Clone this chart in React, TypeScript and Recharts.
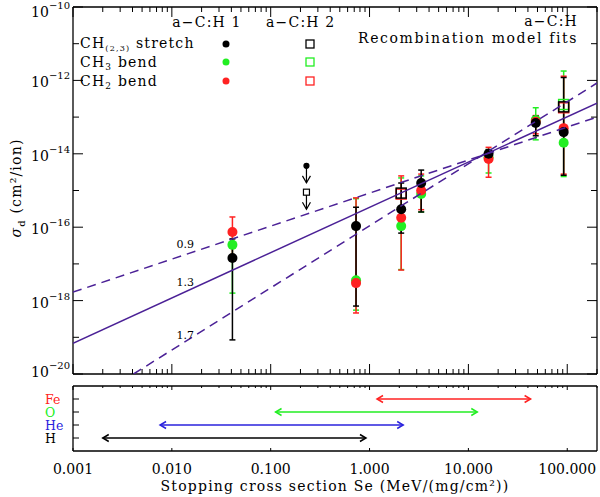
import React from 'react';
import { ScatterChart, Scatter, XAxis, YAxis, ErrorBar, ReferenceDot } from 'recharts';

const FONT = '"DejaVu Serif", serif';
const PURPLE = '#4b2196';
const RED = '#ff2222';
const GREEN = '#22ee22';
const BLUE = '#2a22dd';

// stopping cross section of each measured ion beam, MeV/(mg/cm2)
const SE = [0.041, 0.73, 2.09, 3.33, 16, 48, 92];

// a-C:H 1, CH(2,3) stretch
const STRETCH = [1.45e-17, 1.07e-16, 3.1e-16, 1.6e-15, 1.0e-14, 6.9e-14, 3.9e-14];
const STRETCH_LO = [8.5e-20, 7.1e-19, 6.9e-17, 2.6e-16, 7e-15, 3.1e-14, 2.6e-15];
const STRETCH_HI = [4.8e-17, 3.5e-16, 1.6e-15, 3.6e-15, 1.3e-14, 1.07e-13, 1.2e-12];

// a-C:H 1, CH3 bend
const CH3 = [3.3e-17, 3.6e-18, 1.07e-16, 8e-16, 8e-15, 8.3e-14, 2e-14];
const CH3_LO = [1.6e-18, 5.5e-19, 7e-18, 2.6e-16, 3e-15, 2.4e-14, 2.4e-15];
const CH3_HI = [7e-17, 6e-16, 2.2e-15, 2.5e-15, 1.3e-14, 1.8e-13, 1.8e-12];

// a-C:H 1, CH2 bend
const CH2 = [7.4e-17, 3.0e-18, 1.8e-16, 1.0e-15, 7.2e-15, 7.5e-14, 5e-14];
const CH2_LO = [1.5e-17, 4.6e-19, 6.8e-18, 3e-16, 2.3e-15, 3.5e-14, 2.8e-15];
const CH2_HI = [1.9e-16, 6.3e-16, 2.5e-15, 2.8e-15, 1.5e-14, 1.1e-13, 1.3e-12];

// a-C:H 2 (open squares)
const SE2 = [2.09, 92];
const STRETCH2 = [8.5e-16, 1.9e-13];
const CH2_2 = [8e-16, 1.8e-13];
const SE2_CH3 = [92];
const CH3_2 = [2.2e-13];

// upper limits
const LIMIT_SE = [0.23];
const LIMIT_STRETCH = [4.7e-15];
const LIMIT_SQUARE = [9e-16];

// recombination model fits, read where they meet the frame
const FIT_SE = [0.001, 200];
const FIT_13 = [6.9e-20, 2.4e-13];
const FIT_09 = [1.7e-18, 1.0e-13];
const FIT_17_SE = [0.0041, 200];
const FIT_17 = [1e-20, 8.5e-13];

const FIT_LABELS = ['0.9', '1.3', '1.7'];
const FIT_LABEL_SE = 0.0137;
const FIT_LABEL_Y = [3.5e-17, 3.2e-18, 1.15e-19];

// ion energy ranges (bottom panel)
const IONS = ['H', 'He', 'O', 'Fe'];
const ION_COLORS = ['#000', BLUE, GREEN, RED];
const ION_LO = [0.002, 0.0076, 0.112, 1.19];
const ION_HI = [0.92, 2.19, 12.3, 42.6];

const DECADES = [0.001, 0.01, 0.1, 1, 10, 100];
const X_LABELS = ['0.001', '0.010', '0.100', '1.000', '10.000', '100.000'];
const Y_EXP = [-20, -19, -18, -17, -16, -15, -14, -13, -12, -11, -10];

const X_TICKS = DECADES.flatMap((d) => [1, 2, 3, 4, 5, 6, 7, 8, 9].map((m) => m * d)).filter((v) => v <= 200);
const Y_TICKS = Y_EXP.map((e) => Math.pow(10, e));

const rows = (ys: number[], lo: number[], hi: number[]) =>
  SE.map((x, i) => ({ x, y: ys[i], err: [ys[i] - lo[i], hi[i] - ys[i]] }));
const pts = (xs: number[], ys: number[]) => xs.map((x, i) => ({ x, y: ys[i] }));

const decadeIndex = (v: number) => DECADES.findIndex((d) => Math.abs(v / d - 1) < 1e-6);

const XTick = ({ x, y, payload, side, labels, big = 10, small = 5 }: any) => {
  const i = decadeIndex(payload.value);
  const len = i >= 0 ? big : small;
  const dir = side === 'top' ? 1 : -1;
  return (
    <g>
      {len > 0 && <line x1={x} y1={y} x2={x} y2={y + dir * len} stroke="#000" strokeWidth={1} />}
      {labels && i >= 0 && (
        <text x={x} y={y + 23} textAnchor="middle" fontFamily={FONT} fontSize={14} fill="#000">
          {X_LABELS[i]}
        </text>
      )}
    </g>
  );
};

const YTick = ({ x, y, payload, side, labels }: any) => {
  const e = Math.round(Math.log10(payload.value));
  const major = e % 2 === 0;
  const len = major ? 10 : 6;
  const dir = side === 'left' ? 1 : -1;
  const base = e === -10 ? 10 : e === -20 ? 3 : 7;
  return (
    <g>
      <line x1={x} y1={y} x2={x + dir * len} y2={y} stroke="#000" strokeWidth={1} />
      {labels && major && (
        <text x={x - 3} y={y + base} textAnchor="end" fontFamily={FONT} fontSize={14} fill="#000">
          10
          <tspan fontSize={10} dy={-8}>{'\u2212' + Math.abs(e)}</tspan>
        </text>
      )}
    </g>
  );
};

const Dot = (color: string, r = 5) => (p: any) => <circle cx={p.cx} cy={p.cy} r={r} fill={color} />;
const Square = (color: string) => (p: any) => (
  <rect x={p.cx - 5} y={p.cy - 5} width={10} height={10} fill="none" stroke={color} strokeWidth={1.5} />
);
const NoShape = () => <g />;

const LimitDot = (p: any) => (
  <g stroke="#000" strokeWidth={1.2} fill="none">
    <circle cx={p.cx} cy={p.cy} r={2.5} fill="#000" />
    <line x1={p.cx} y1={p.cy} x2={p.cx} y2={p.cy + 17} />
    <polyline points={`${p.cx - 4},${p.cy + 10} ${p.cx},${p.cy + 17} ${p.cx + 4},${p.cy + 10}`} />
  </g>
);
const LimitSquare = (p: any) => (
  <g stroke="#000" strokeWidth={1.2} fill="none">
    <rect x={p.cx - 3} y={p.cy - 3} width={6} height={6} fill="#fff" />
    <line x1={p.cx} y1={p.cy + 3} x2={p.cx} y2={p.cy + 17} />
    <polyline points={`${p.cx - 4},${p.cy + 10} ${p.cx},${p.cy + 17} ${p.cx + 4},${p.cy + 10}`} />
  </g>
);

const Arrowhead = (color: string, lo: number) => (p: any) => {
  const d = p.payload.x === lo ? 1 : -1;
  return (
    <polyline
      points={`${p.cx + d * 6},${p.cy - 3.5} ${p.cx},${p.cy} ${p.cx + d * 6},${p.cy + 3.5}`}
      fill="none"
      stroke={color}
      strokeWidth={1.5}
    />
  );
};

const BAND = [
  { name: 'CH3', data: rows(CH3, CH3_LO, CH3_HI), color: GREEN },
  { name: 'CH2', data: rows(CH2, CH2_LO, CH2_HI), color: RED },
  { name: 'stretch', data: rows(STRETCH, STRETCH_LO, STRETCH_HI), color: '#000' },
];

const AXIS_LINE = { stroke: '#000', strokeWidth: 1.3 };
const LOG_X = {
  type: 'number' as const,
  dataKey: 'x',
  scale: 'log' as const,
  domain: [0.001, 200],
  allowDataOverflow: true,
  interval: 0 as const,
  height: 1,
  tickSize: 0,
  tickMargin: 0,
  axisLine: AXIS_LINE,
};

function MainPanel() {
  const logY = {
    type: 'number' as const,
    dataKey: 'y',
    scale: 'log' as const,
    domain: [1e-20, 1e-10],
    allowDataOverflow: true,
    ticks: Y_TICKS,
    interval: 0 as const,
    width: 1,
    tickSize: 0,
    tickMargin: 0,
    axisLine: AXIS_LINE,
  };
  return (
    <ScatterChart width={600} height={380} margin={{ top: 6, right: 2, bottom: 5, left: 72 }}>
      <XAxis xAxisId="b" {...LOG_X} ticks={X_TICKS} tick={(p: any) => <XTick {...p} side="bottom" />} />
      <XAxis xAxisId="t" orientation="top" {...LOG_X} ticks={X_TICKS} tick={(p: any) => <XTick {...p} side="top" />} />
      <YAxis yAxisId="l" {...logY} tick={(p: any) => <YTick {...p} side="left" labels />} />
      <YAxis yAxisId="r" orientation="right" {...logY} tick={(p: any) => <YTick {...p} side="right" />} />

      {BAND.map((s) => (
        <Scatter key={s.name} xAxisId="b" yAxisId="l" data={s.data} isAnimationActive={false} shape={Dot(s.color)}>
          <ErrorBar dataKey="err" direction="y" width={3} stroke={s.color} strokeWidth={1.5} isAnimationActive={false} />
        </Scatter>
      ))}

      <Scatter xAxisId="b" yAxisId="l" data={pts(SE2_CH3, CH3_2)} isAnimationActive={false} shape={Square(GREEN)} />
      <Scatter xAxisId="b" yAxisId="l" data={pts(SE2, CH2_2)} isAnimationActive={false} shape={Square(RED)} />
      <Scatter xAxisId="b" yAxisId="l" data={pts(SE2, STRETCH2)} isAnimationActive={false} shape={Square('#000')} />

      <Scatter xAxisId="b" yAxisId="l" data={pts(LIMIT_SE, LIMIT_STRETCH)} isAnimationActive={false} shape={LimitDot} />
      <Scatter xAxisId="b" yAxisId="l" data={pts(LIMIT_SE, LIMIT_SQUARE)} isAnimationActive={false} shape={LimitSquare} />

      <Scatter
        xAxisId="b"
        yAxisId="l"
        data={pts(FIT_SE, FIT_13)}
        isAnimationActive={false}
        shape={NoShape}
        line={{ stroke: PURPLE, strokeWidth: 1.5 }}
      />
      <Scatter
        xAxisId="b"
        yAxisId="l"
        data={pts(FIT_SE, FIT_09)}
        isAnimationActive={false}
        shape={NoShape}
        line={{ stroke: PURPLE, strokeWidth: 1.5, strokeDasharray: '9 6' }}
      />
      <Scatter
        xAxisId="b"
        yAxisId="l"
        data={pts(FIT_17_SE, FIT_17)}
        isAnimationActive={false}
        shape={NoShape}
        line={{ stroke: PURPLE, strokeWidth: 1.5, strokeDasharray: '9 6' }}
      />

      {FIT_LABELS.map((t, i) => (
        <ReferenceDot
          key={t}
          xAxisId="b"
          yAxisId="l"
          x={FIT_LABEL_SE}
          y={FIT_LABEL_Y[i]}
          r={0}
          fill="none"
          stroke="none"
          label={{ value: t, position: 'center', fontSize: 11, fill: '#000', fontFamily: FONT }}
        />
      ))}
    </ScatterChart>
  );
}

function IonPanel() {
  const rowY = {
    type: 'number' as const,
    dataKey: 'y',
    domain: [0, 5],
    ticks: [1, 2, 3, 4],
    interval: 0 as const,
    width: 1,
    tickSize: 0,
    tickMargin: 0,
    axisLine: AXIS_LINE,
  };
  return (
    <ScatterChart width={600} height={117} margin={{ top: 5, right: 2, bottom: 45, left: 72 }}>
      <XAxis
        xAxisId="b"
        {...LOG_X}
        ticks={DECADES}
        tick={(p: any) => <XTick {...p} side="bottom" labels big={3} small={0} />}
      />
      <XAxis
        xAxisId="t"
        orientation="top"
        {...LOG_X}
        ticks={X_TICKS}
        tick={(p: any) => <XTick {...p} side="top" big={4} small={2} />}
      />
      <YAxis
        yAxisId="l"
        {...rowY}
        tick={(p: any) => {
          const i = p.payload.value - 1;
          return (
            <g>
              <line x1={p.x} y1={p.y} x2={p.x + 6} y2={p.y} stroke="#000" />
              <text x={45} y={p.y + 4.5} fontFamily={FONT} fontSize={12.5} fill={ION_COLORS[i]}>
                {IONS[i]}
              </text>
            </g>
          );
        }}
      />
      <YAxis
        yAxisId="r"
        orientation="right"
        {...rowY}
        tick={(p: any) => <line x1={p.x} y1={p.y} x2={p.x - 6} y2={p.y} stroke="#000" />}
      />
      {IONS.map((ion, i) => (
        <Scatter
          key={ion}
          xAxisId="b"
          yAxisId="l"
          data={[
            { x: ION_LO[i], y: i + 1 },
            { x: ION_HI[i], y: i + 1 },
          ]}
          isAnimationActive={false}
          line={{ stroke: ION_COLORS[i], strokeWidth: 1.5 }}
          shape={Arrowhead(ION_COLORS[i], ION_LO[i])}
        />
      ))}
    </ScatterChart>
  );
}

function Annotations() {
  const t = { fontFamily: FONT, fontSize: 14, fill: '#000', letterSpacing: 1.2 };
  return (
    <svg width={600} height={497} style={{ position: 'absolute', left: 0, top: 0, pointerEvents: 'none' }}>
      <text {...t} x={207} y={27} textAnchor="middle">a{'\u2212'}C:H 1</text>
      <text {...t} x={266} y={27}>a{'\u2212'}C:H 2</text>
      <text {...t} x={578} y={26} textAnchor="end">a{'\u2212'}C:H</text>
      <text {...t} x={578} y={43} textAnchor="end" letterSpacing={1.6}>Recombination model fits</text>

      <text {...t} x={80} y={48}>
        CH<tspan fontSize={8} dy={3}>(2,3)</tspan>
        <tspan dy={-3}> stretch</tspan>
      </text>
      <text {...t} x={80} y={67}>
        CH<tspan fontSize={9} dy={3}>3</tspan>
        <tspan dy={-3}> bend</tspan>
      </text>
      <text {...t} x={80} y={86}>
        CH<tspan fontSize={9} dy={3}>2</tspan>
        <tspan dy={-3}> bend</tspan>
      </text>
      <circle cx={226} cy={44} r={3.5} fill="#000" />
      <circle cx={226} cy={62} r={3.5} fill={GREEN} />
      <circle cx={226} cy={81} r={3.5} fill={RED} />
      <rect x={306} y={40} width={8} height={8} fill="none" stroke="#000" strokeWidth={1.3} />
      <rect x={306} y={58} width={8} height={8} fill="none" stroke={GREEN} strokeWidth={1.3} />
      <rect x={306} y={77} width={8} height={8} fill="none" stroke={RED} strokeWidth={1.3} />

      <text {...t} x={21} y={188} textAnchor="middle" transform="rotate(-90 21 188)">
        <tspan fontStyle="italic">σ</tspan>
        <tspan fontSize={10} dy={4}>d</tspan>
        <tspan dy={-4}> (cm²/ion)</tspan>
      </text>
      <text {...t} x={335} y={491} textAnchor="middle">
        Stopping cross section Se (MeV/(mg/cm²))
      </text>
    </svg>
  );
}

export default function App() {
  return (
    <div style={{ position: 'fixed', left: 0, top: 0, width: 600, height: 497, background: '#fff' }}>
      <div style={{ position: 'absolute', left: 0, top: 0 }}>
        <MainPanel />
      </div>
      <div style={{ position: 'absolute', left: 0, top: 380 }}>
        <IonPanel />
      </div>
      <Annotations />
    </div>
  );
}
